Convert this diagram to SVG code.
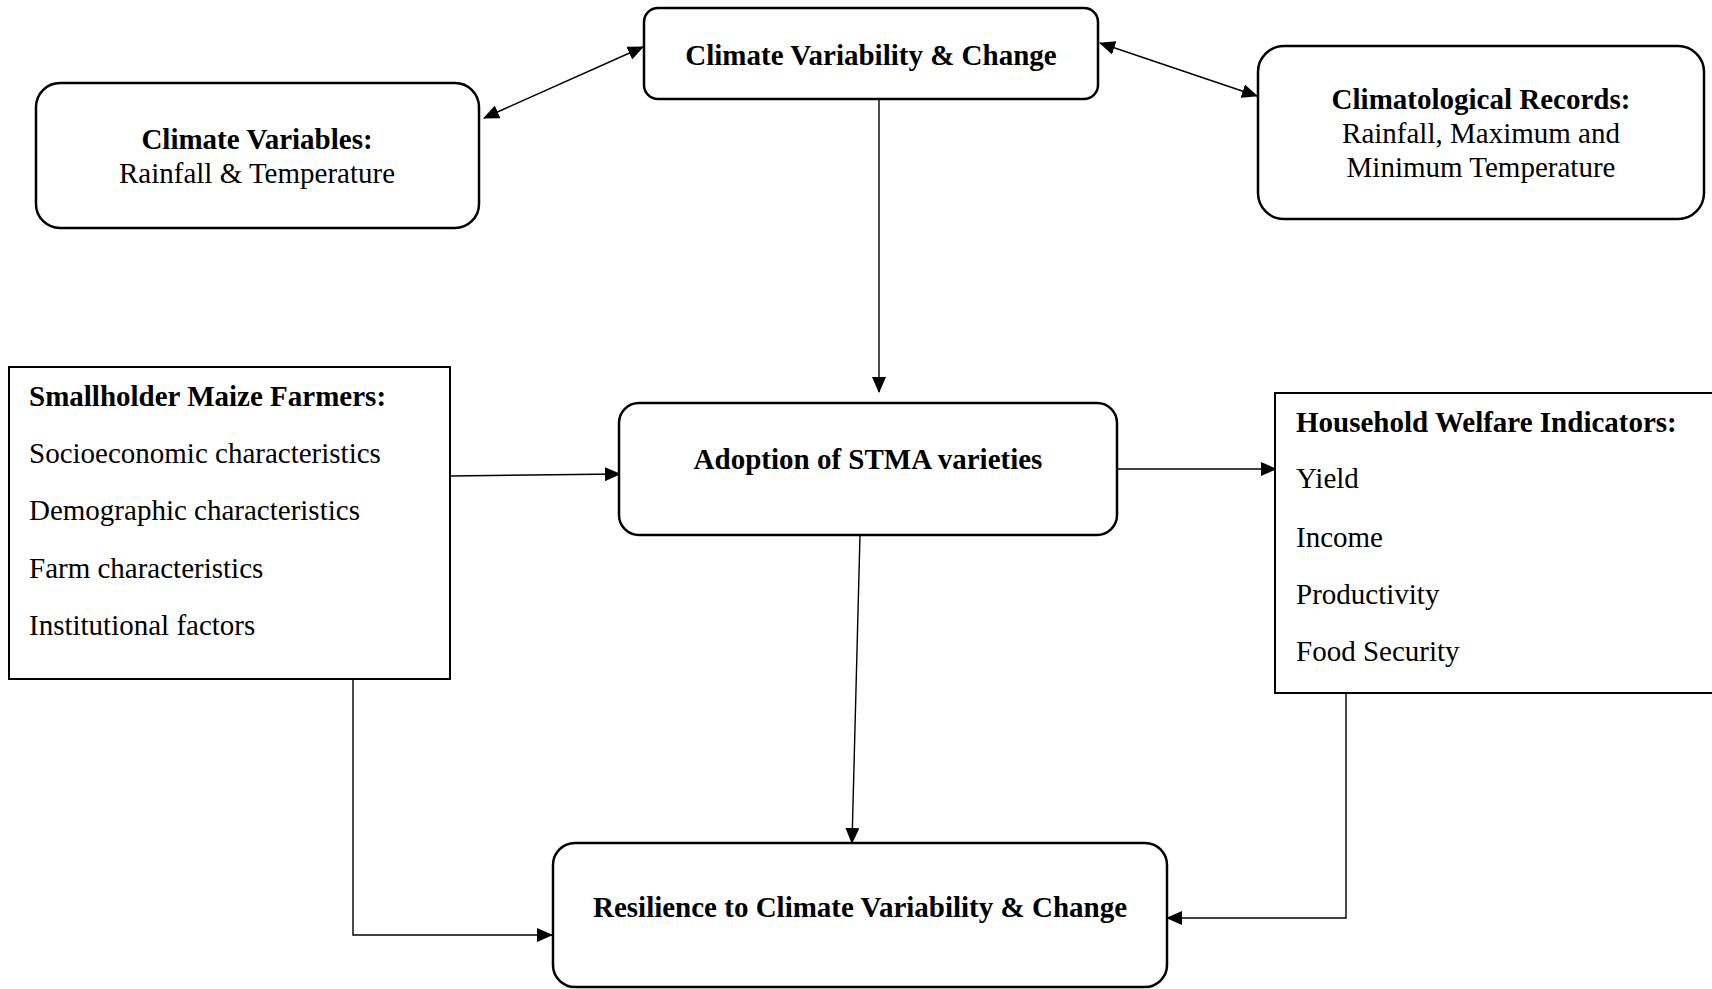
<svg xmlns="http://www.w3.org/2000/svg" width="1712" height="989" viewBox="0 0 1712 989">
<style>
.rbox{fill:#fff;stroke:#000;stroke-width:2.5}
.sbox{fill:#fff;stroke:#000;stroke-width:2}
.t{font-family:"Liberation Serif","Times New Roman",serif;font-size:29px;fill:#000}
.b{font-weight:bold}
.c{text-anchor:middle}
.ln{fill:none;stroke:#000;stroke-width:1.4}
</style>
<defs>
<marker id="ah" markerUnits="userSpaceOnUse" markerWidth="16" markerHeight="14" refX="15" refY="7" orient="auto-start-reverse" viewBox="0 0 16 14">
<path d="M0,0 L16,7 L0,14 z" fill="#000"/>
</marker>
</defs>
<rect width="1712" height="989" fill="#fff"/>
<g id="connectors">
<line class="ln" x1="643" y1="47" x2="484" y2="118" marker-start="url(#ah)" marker-end="url(#ah)"/>
<line class="ln" x1="1100" y1="43" x2="1257" y2="96" marker-start="url(#ah)" marker-end="url(#ah)"/>
<line class="ln" x1="879" y1="100" x2="879" y2="392" marker-end="url(#ah)"/>
<line class="ln" x1="450" y1="476" x2="620" y2="474" marker-end="url(#ah)"/>
<line class="ln" x1="1117" y1="469" x2="1276" y2="469" marker-end="url(#ah)"/>
<line class="ln" x1="860" y1="535" x2="852" y2="843" marker-end="url(#ah)"/>
<polyline class="ln" points="353,679 353,935 552,935" marker-end="url(#ah)"/>
<polyline class="ln" points="1346,693 1346,918 1167,918" marker-end="url(#ah)"/>
</g>
<g id="climate-variability">
<rect class="rbox" x="644" y="8" width="454" height="91" rx="14"/>
<text class="t b c" x="871" y="65">Climate Variability &amp; Change</text>
</g>
<g id="climate-variables">
<rect class="rbox" x="36" y="83" width="443" height="145" rx="24"/>
<text class="t b c" x="257" y="149">Climate Variables:</text>
<text class="t c" x="257" y="183">Rainfall &amp; Temperature</text>
</g>
<g id="climatological-records">
<rect class="rbox" x="1258" y="46" width="446" height="173" rx="26"/>
<text class="t b c" x="1481" y="109">Climatological Records:</text>
<text class="t c" x="1481" y="143">Rainfall, Maximum and</text>
<text class="t c" x="1481" y="177">Minimum Temperature</text>
</g>
<g id="smallholder">
<rect class="sbox" x="9" y="367" width="441" height="312"/>
<text class="t b" x="29" y="406">Smallholder Maize Farmers:</text>
<text class="t" x="29" y="463">Socioeconomic characteristics</text>
<text class="t" x="29" y="520">Demographic characteristics</text>
<text class="t" x="29" y="578">Farm characteristics</text>
<text class="t" x="29" y="635">Institutional factors</text>
</g>
<g id="adoption">
<rect class="rbox" x="619" y="403" width="498" height="132" rx="20"/>
<text class="t b c" x="868" y="469">Adoption of STMA varieties</text>
</g>
<g id="household">
<rect class="sbox" x="1275" y="393" width="440" height="300"/>
<text class="t b" x="1296" y="432">Household Welfare Indicators:</text>
<text class="t" x="1296" y="488">Yield</text>
<text class="t" x="1296" y="547">Income</text>
<text class="t" x="1296" y="604">Productivity</text>
<text class="t" x="1296" y="661">Food Security</text>
</g>
<g id="resilience">
<rect class="rbox" x="553" y="843" width="614" height="144" rx="22"/>
<text class="t b c" x="860" y="917">Resilience to Climate Variability &amp; Change</text>
</g>
</svg>
